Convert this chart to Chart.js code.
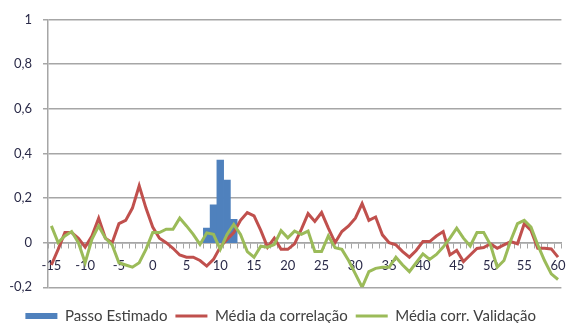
<!DOCTYPE html>
<html>
<head>
<meta charset="utf-8">
<script src="https://cdn.jsdelivr.net/npm/chart.js@4/dist/chart.umd.min.js"></script>
<style>
  html, body { margin: 0; padding: 0; background: #ffffff; }
  #wrap { width: 569px; height: 323px; }
</style>
</head>
<body>
<div id="wrap"><canvas id="chart" width="569" height="323"></canvas></div>
<script>
// Defasagens (passos) no eixo horizontal
const passos = [
  -15, -14, -13, -12, -11, -10, -9, -8, -7, -6,
  -5, -4, -3, -2, -1, 0, 1, 2, 3, 4,
  5, 6, 7, 8, 9, 10, 11, 12, 13, 14,
  15, 16, 17, 18, 19, 20, 21, 22, 23, 24,
  25, 26, 27, 28, 29, 30, 31, 32, 33, 34,
  35, 36, 37, 38, 39, 40, 41, 42, 43, 44,
  45, 46, 47, 48, 49, 50, 51, 52, 53, 54,
  55, 56, 57, 58, 59, 60
];

// Histograma do passo estimado
const passoEstimadoPassos = [8, 9, 10, 11, 12];
const passoEstimadoValores = [0.065, 0.17, 0.37, 0.28, 0.105];

// Média da correlação (um valor por passo)
const mediaCorrelacao = [
  -0.10, -0.03, 0.045, 0.045, 0.02, -0.02, 0.03, 0.11, 0.02, 0.0,
  0.085, 0.10, 0.155, 0.255, 0.155, 0.07, 0.02, 0.0, -0.025, -0.055,
  -0.065, -0.065, -0.08, -0.105, -0.075, -0.02, 0.015, 0.045, 0.10, 0.135,
  0.12, 0.055, -0.02, 0.02, -0.03, -0.03, -0.005, 0.06, 0.13, 0.095,
  0.135, 0.065, 0.0, 0.05, 0.075, 0.11, 0.175, 0.10, 0.115, 0.035,
  0.0, -0.01, -0.04, -0.065, -0.035, 0.005, 0.005, 0.03, 0.05, -0.055,
  -0.035, -0.085, -0.055, -0.026, -0.022, -0.005, -0.025, -0.01, 0.005, -0.005,
  0.085, 0.055, -0.025, -0.025, -0.028, -0.065
];

// Média da correlação na validação
const mediaCorrValidacao = [
  0.075, 0.0, 0.03, 0.05, 0.0, -0.09, 0.015, 0.075, 0.02, -0.01,
  -0.09, -0.10, -0.11, -0.09, -0.03, 0.045, 0.045, 0.06, 0.06, 0.11,
  0.075, 0.037, -0.008, 0.044, 0.037, -0.03, 0.037, 0.082, 0.037, -0.04,
  -0.065, -0.016, -0.02, -0.008, 0.054, 0.022, 0.052, 0.037, 0.052, -0.04,
  -0.04, 0.03, -0.023, -0.03, -0.08, -0.14, -0.20, -0.13, -0.115, -0.11,
  -0.11, -0.065, -0.10, -0.13, -0.09, -0.05, -0.075, -0.053, -0.02, 0.02,
  0.065, 0.02, -0.015, 0.045, 0.045, -0.01, -0.11, -0.08, 0.01, 0.085,
  0.10, 0.07, -0.01, -0.08, -0.14, -0.165
];

// Limites e passo do eixo vertical
const yMin = -0.2;
const yMax = 1;
const yPasso = 0.2;

const rotulos = passos.map(String);
const eixoCor = '#a6a6a6';
const textoEixo = '#2a2a48';
const fonte = 'Lato, "Open Sans", sans-serif';

new Chart(document.getElementById('chart'), {
  type: 'bar',
  data: {
    labels: rotulos,
    datasets: [
      {
        type: 'bar',
        label: 'Passo Estimado',
        data: passoEstimadoPassos.map((p, i) => ({ x: String(p), y: passoEstimadoValores[i] })),
        backgroundColor: '#4f81bd',
        borderWidth: 0,
        categoryPercentage: 1,
        barPercentage: 1,
        order: 2
      },
      {
        type: 'line',
        label: 'Média da correlação',
        data: mediaCorrelacao,
        borderColor: '#c0504d',
        backgroundColor: '#c0504d',
        borderWidth: 3,
        pointRadius: 0,
        tension: 0,
        order: 1
      },
      {
        type: 'line',
        label: 'Média corr. Validação',
        data: mediaCorrValidacao,
        borderColor: '#9bbb59',
        backgroundColor: '#9bbb59',
        borderWidth: 3,
        pointRadius: 0,
        tension: 0,
        order: 0
      }
    ]
  },
  options: {
    responsive: false,
    animation: false,
    layout: { padding: { left: 0, right: 7.6, top: 19.5, bottom: -10.5 } },
    plugins: {
      tooltip: { enabled: false },
      legend: {
        position: 'bottom',
        title: { display: true, text: '', font: { size: 1 }, padding: { top: 12, bottom: 0 } },
        labels: {
          usePointStyle: true,
          pointStyleWidth: 32,
          boxHeight: 6,
          padding: 8,
          color: '#404040',
          font: { family: fonte, size: 15 },
          generateLabels(chart) {
            const itens = Chart.defaults.plugins.legend.labels.generateLabels(chart);
            itens.sort((a, b) => a.datasetIndex - b.datasetIndex);
            itens.forEach(it => {
              it.pointStyle = chart.data.datasets[it.datasetIndex].type === 'line' ? 'line' : 'rect';
            });
            return itens;
          }
        }
      }
    },
    scales: {
      x: {
        type: 'category',
        position: { y: 0 },
        offset: true,
        afterFit(scale) {
          scale.paddingLeft = 0;
          scale.paddingRight = 0;
        },
        border: { color: eixoCor, width: 1.5 },
        grid: {
          offset: true,
          drawOnChartArea: false,
          drawTicks: true,
          tickLength: 5,
          color: eixoCor,
          lineWidth: 1
        },
        ticks: {
          autoSkip: false,
          maxRotation: 0,
          padding: 10,
          color: textoEixo,
          font: { family: fonte, size: 13 },
          callback(value) {
            const p = passos[value];
            return p % 5 === 0 ? String(p) : '';
          }
        }
      },
      y: {
        min: yMin,
        max: yMax,
        afterFit(scale) {
          scale.width = 48;
          scale.paddingTop = 0;
          scale.paddingBottom = 0;
        },
        border: { color: eixoCor, width: 1.5 },
        grid: {
          color: eixoCor,
          lineWidth: 1.5,
          tickLength: 5
        },
        ticks: {
          stepSize: yPasso,
          padding: 11,
          color: textoEixo,
          font: { family: fonte, size: 13 },
          callback(value) {
            const v = Math.round(value * 10) / 10;
            return String(v).replace('.', ',');
          }
        }
      }
    }
  }
});
</script>
</body>
</html>
